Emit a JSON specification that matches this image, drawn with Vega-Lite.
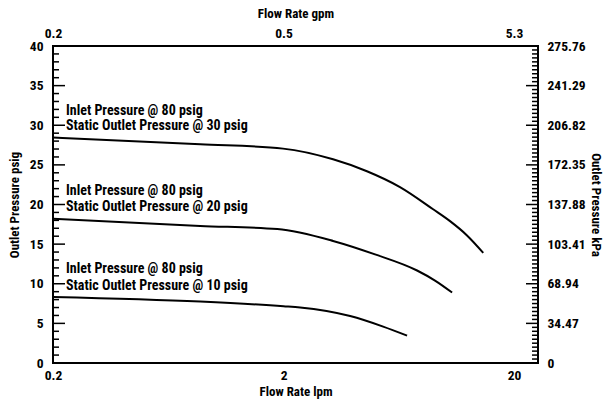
{
  "$schema": "https://vega.github.io/schema/vega-lite/v6.json",
  "width": 485,
  "height": 317,
  "autosize": {"type": "none"},
  "padding": {"left": 53, "top": 46, "right": 65, "bottom": 42},
  "background": "white",
  "config": {
    "view": {"stroke": "black", "strokeWidth": 2},
    "font": "Roboto Condensed, DejaVu Sans Condensed, sans-serif",
    "axis": {
      "labelFont": "Roboto Condensed, DejaVu Sans Condensed, sans-serif",
      "labelFontWeight": "bold",
      "labelFontSize": 13.5,
      "labelColor": "black",
      "titleFont": "Roboto Condensed, DejaVu Sans Condensed, sans-serif",
      "titleFontWeight": "bold",
      "titleFontSize": 13,
      "titleColor": "black",
      "grid": false,
      "domain": false,
      "ticks": false
    }
  },
  "datasets": {
    "curves": [
      {"series": "30", "lpm": 0.2, "psig": 28.45},
      {"series": "30", "lpm": 0.87, "psig": 27.6},
      {"series": "30", "lpm": 1.99, "psig": 27.05},
      {"series": "30", "lpm": 3.28, "psig": 25.7},
      {"series": "30", "lpm": 4.6, "psig": 24.2},
      {"series": "30", "lpm": 6.4, "psig": 22.2},
      {"series": "30", "lpm": 8.91, "psig": 19.4},
      {"series": "30", "lpm": 10.55, "psig": 17.9},
      {"series": "30", "lpm": 12.5, "psig": 16.1},
      {"series": "30", "lpm": 14.7, "psig": 13.9},
      {"series": "20", "lpm": 0.2, "psig": 18.2},
      {"series": "20", "lpm": 0.87, "psig": 17.3},
      {"series": "20", "lpm": 1.88, "psig": 16.9},
      {"series": "20", "lpm": 3.28, "psig": 15.4},
      {"series": "20", "lpm": 4.99, "psig": 13.7},
      {"series": "20", "lpm": 7.59, "psig": 11.67},
      {"series": "20", "lpm": 9.08, "psig": 10.4},
      {"series": "20", "lpm": 10.77, "psig": 8.89},
      {"series": "10", "lpm": 0.2, "psig": 8.34},
      {"series": "10", "lpm": 0.87, "psig": 7.75},
      {"series": "10", "lpm": 2.0, "psig": 7.16},
      {"series": "10", "lpm": 2.36, "psig": 7.0},
      {"series": "10", "lpm": 3.89, "psig": 5.92},
      {"series": "10", "lpm": 5.41, "psig": 4.59},
      {"series": "10", "lpm": 6.87, "psig": 3.45}
    ],
    "labels": [
      {"lpm": 0.2, "psig": 31.8, "text": "Inlet Pressure @ 80 psig"},
      {"lpm": 0.2, "psig": 29.9, "text": "Static Outlet Pressure @ 30 psig"},
      {"lpm": 0.2, "psig": 21.7, "text": "Inlet Pressure @ 80 psig"},
      {"lpm": 0.2, "psig": 19.7, "text": "Static Outlet Pressure @ 20 psig"},
      {"lpm": 0.2, "psig": 11.8, "text": "Inlet Pressure @ 80 psig"},
      {"lpm": 0.2, "psig": 9.77, "text": "Static Outlet Pressure @ 10 psig"}
    ],
    "ticks": [
      {"v": 5, "s": "L", "k": "major"}, {"v": 10, "s": "L", "k": "major"}, {"v": 15, "s": "L", "k": "major"}, {"v": 20, "s": "L", "k": "major"}, {"v": 25, "s": "L", "k": "major"}, {"v": 30, "s": "L", "k": "major"}, {"v": 35, "s": "L", "k": "major"},
      {"v": 1, "s": "L", "k": "minor"}, {"v": 2, "s": "L", "k": "minor"}, {"v": 3, "s": "L", "k": "minor"}, {"v": 4, "s": "L", "k": "minor"},
      {"v": 6, "s": "L", "k": "minor"}, {"v": 7, "s": "L", "k": "minor"}, {"v": 8, "s": "L", "k": "minor"}, {"v": 9, "s": "L", "k": "minor"},
      {"v": 11, "s": "L", "k": "minor"}, {"v": 12, "s": "L", "k": "minor"}, {"v": 13, "s": "L", "k": "minor"}, {"v": 14, "s": "L", "k": "minor"},
      {"v": 16, "s": "L", "k": "minor"}, {"v": 17, "s": "L", "k": "minor"}, {"v": 18, "s": "L", "k": "minor"}, {"v": 19, "s": "L", "k": "minor"},
      {"v": 21, "s": "L", "k": "minor"}, {"v": 22, "s": "L", "k": "minor"}, {"v": 23, "s": "L", "k": "minor"}, {"v": 24, "s": "L", "k": "minor"},
      {"v": 26, "s": "L", "k": "minor"}, {"v": 27, "s": "L", "k": "minor"}, {"v": 28, "s": "L", "k": "minor"}, {"v": 29, "s": "L", "k": "minor"},
      {"v": 31, "s": "L", "k": "minor"}, {"v": 32, "s": "L", "k": "minor"}, {"v": 33, "s": "L", "k": "minor"}, {"v": 34, "s": "L", "k": "minor"},
      {"v": 36, "s": "L", "k": "minor"}, {"v": 37, "s": "L", "k": "minor"}, {"v": 38, "s": "L", "k": "minor"}, {"v": 39, "s": "L", "k": "minor"},
      {"v": 5, "s": "R", "k": "major"}, {"v": 10, "s": "R", "k": "major"}, {"v": 15, "s": "R", "k": "major"}, {"v": 20, "s": "R", "k": "major"}, {"v": 25, "s": "R", "k": "major"}, {"v": 30, "s": "R", "k": "major"}, {"v": 35, "s": "R", "k": "major"},
      {"v": 0.5, "s": "R", "k": "minor"}, {"v": 1, "s": "R", "k": "minor"}, {"v": 1.5, "s": "R", "k": "minor"}, {"v": 2, "s": "R", "k": "minor"}, {"v": 2.5, "s": "R", "k": "minor"}, {"v": 3, "s": "R", "k": "minor"}, {"v": 3.5, "s": "R", "k": "minor"}, {"v": 4, "s": "R", "k": "minor"}, {"v": 4.5, "s": "R", "k": "minor"},
      {"v": 5.5, "s": "R", "k": "minor"}, {"v": 6, "s": "R", "k": "minor"}, {"v": 6.5, "s": "R", "k": "minor"}, {"v": 7, "s": "R", "k": "minor"}, {"v": 7.5, "s": "R", "k": "minor"}, {"v": 8, "s": "R", "k": "minor"}, {"v": 8.5, "s": "R", "k": "minor"}, {"v": 9, "s": "R", "k": "minor"}, {"v": 9.5, "s": "R", "k": "minor"},
      {"v": 10.5, "s": "R", "k": "minor"}, {"v": 11, "s": "R", "k": "minor"}, {"v": 11.5, "s": "R", "k": "minor"}, {"v": 12, "s": "R", "k": "minor"}, {"v": 12.5, "s": "R", "k": "minor"}, {"v": 13, "s": "R", "k": "minor"}, {"v": 13.5, "s": "R", "k": "minor"}, {"v": 14, "s": "R", "k": "minor"}, {"v": 14.5, "s": "R", "k": "minor"},
      {"v": 15.5, "s": "R", "k": "minor"}, {"v": 16, "s": "R", "k": "minor"}, {"v": 16.5, "s": "R", "k": "minor"}, {"v": 17, "s": "R", "k": "minor"}, {"v": 17.5, "s": "R", "k": "minor"}, {"v": 18, "s": "R", "k": "minor"}, {"v": 18.5, "s": "R", "k": "minor"}, {"v": 19, "s": "R", "k": "minor"}, {"v": 19.5, "s": "R", "k": "minor"},
      {"v": 20.5, "s": "R", "k": "minor"}, {"v": 21, "s": "R", "k": "minor"}, {"v": 21.5, "s": "R", "k": "minor"}, {"v": 22, "s": "R", "k": "minor"}, {"v": 22.5, "s": "R", "k": "minor"}, {"v": 23, "s": "R", "k": "minor"}, {"v": 23.5, "s": "R", "k": "minor"}, {"v": 24, "s": "R", "k": "minor"}, {"v": 24.5, "s": "R", "k": "minor"},
      {"v": 25.5, "s": "R", "k": "minor"}, {"v": 26, "s": "R", "k": "minor"}, {"v": 26.5, "s": "R", "k": "minor"}, {"v": 27, "s": "R", "k": "minor"}, {"v": 27.5, "s": "R", "k": "minor"}, {"v": 28, "s": "R", "k": "minor"}, {"v": 28.5, "s": "R", "k": "minor"}, {"v": 29, "s": "R", "k": "minor"}, {"v": 29.5, "s": "R", "k": "minor"},
      {"v": 30.5, "s": "R", "k": "minor"}, {"v": 31, "s": "R", "k": "minor"}, {"v": 31.5, "s": "R", "k": "minor"}, {"v": 32, "s": "R", "k": "minor"}, {"v": 32.5, "s": "R", "k": "minor"}, {"v": 33, "s": "R", "k": "minor"}, {"v": 33.5, "s": "R", "k": "minor"}, {"v": 34, "s": "R", "k": "minor"}, {"v": 34.5, "s": "R", "k": "minor"},
      {"v": 35.5, "s": "R", "k": "minor"}, {"v": 36, "s": "R", "k": "minor"}, {"v": 36.5, "s": "R", "k": "minor"}, {"v": 37, "s": "R", "k": "minor"}, {"v": 37.5, "s": "R", "k": "minor"}, {"v": 38, "s": "R", "k": "minor"}, {"v": 38.5, "s": "R", "k": "minor"}, {"v": 39, "s": "R", "k": "minor"}, {"v": 39.5, "s": "R", "k": "minor"}
    ]
  },
  "layer": [
    {
      "data": {"name": "curves"},
      "mark": {"type": "line", "color": "black", "strokeWidth": 2, "interpolate": "monotone"},
      "encoding": {
        "x": {"field": "lpm", "type": "quantitative",
              "scale": {"type": "log", "domain": [0.2, 25.4], "nice": false},
              "axis": {"orient": "bottom", "values": [0.2, 2, 20], "labelPadding": 5, "title": "Flow Rate lpm", "titlePadding": 4, "labelFlush": false}},
        "y": {"field": "psig", "type": "quantitative",
              "scale": {"domain": [0, 40], "nice": false},
              "axis": {"orient": "left", "values": [0, 5, 10, 15, 20, 25, 30, 35, 40], "labelPadding": 10, "title": "Outlet Pressure psig", "titlePadding": 8, "labelFlush": false}},
        "detail": {"field": "series"}
      }
    },
    {
      "data": {"name": "curves"},
      "mark": {"type": "point", "opacity": 0},
      "encoding": {
        "x": {"field": "lpm", "type": "quantitative",
              "scale": {"type": "log", "domain": [0.2, 25.4], "nice": false},
              "axis": {"orient": "top", "values": [0.2, 2, 20], "labelPadding": 6, "labelExpr": "datum.value == 0.2 ? '0.2' : datum.value == 2 ? '0.5' : '5.3'", "title": "Flow Rate gpm", "titlePadding": 6, "labelFlush": false}},
        "y": {"field": "psig", "type": "quantitative",
              "scale": {"domain": [0, 40], "nice": false},
              "axis": {"orient": "right", "values": [0, 5, 10, 15, 20, 25, 30, 35, 40], "labelPadding": 9, "labelExpr": "datum.value == 0 ? '0' : format(datum.value * 6.894, '.2f')", "title": "Outlet Pressure kPa", "titlePadding": 3, "labelFlush": false}}
      }
    },
    {
      "data": {"name": "ticks"},
      "transform": [{"filter": "datum.s == 'L' && datum.k == 'major'"}],
      "mark": {"type": "tick", "orient": "horizontal", "clip": true, "color": "black", "thickness": 1.5, "size": 24, "opacity": 1},
      "encoding": {
        "x": {"datum": 0.2, "type": "quantitative",
              "scale": {"type": "log", "domain": [0.2, 25.4], "nice": false}, "axis": null},
        "y": {"field": "v", "type": "quantitative",
              "scale": {"domain": [0, 40], "nice": false}, "axis": null}
      }
    },
    {
      "data": {"name": "ticks"},
      "transform": [{"filter": "datum.s == 'L' && datum.k == 'minor'"}],
      "mark": {"type": "tick", "orient": "horizontal", "clip": true, "color": "black", "thickness": 1.5, "size": 12, "opacity": 1},
      "encoding": {
        "x": {"datum": 0.2, "type": "quantitative",
              "scale": {"type": "log", "domain": [0.2, 25.4], "nice": false}, "axis": null},
        "y": {"field": "v", "type": "quantitative",
              "scale": {"domain": [0, 40], "nice": false}, "axis": null}
      }
    },
    {
      "data": {"name": "ticks"},
      "transform": [{"filter": "datum.s == 'R' && datum.k == 'major'"}],
      "mark": {"type": "tick", "orient": "horizontal", "clip": true, "color": "black", "thickness": 1.5, "size": 24, "opacity": 1},
      "encoding": {
        "x": {"datum": 25.4, "type": "quantitative",
              "scale": {"type": "log", "domain": [0.2, 25.4], "nice": false}, "axis": null},
        "y": {"field": "v", "type": "quantitative",
              "scale": {"domain": [0, 40], "nice": false}, "axis": null}
      }
    },
    {
      "data": {"name": "ticks"},
      "transform": [{"filter": "datum.s == 'R' && datum.k == 'minor'"}],
      "mark": {"type": "tick", "orient": "horizontal", "clip": true, "color": "black", "thickness": 1.5, "size": 12, "opacity": 1},
      "encoding": {
        "x": {"datum": 25.4, "type": "quantitative",
              "scale": {"type": "log", "domain": [0.2, 25.4], "nice": false}, "axis": null},
        "y": {"field": "v", "type": "quantitative",
              "scale": {"domain": [0, 40], "nice": false}, "axis": null}
      }
    },
    {
      "data": {"name": "labels"},
      "mark": {"type": "text", "align": "left", "baseline": "middle", "dx": 13, "fontSize": 14, "fontWeight": "bold", "font": "Roboto Condensed, DejaVu Sans Condensed, sans-serif", "color": "black"},
      "encoding": {
        "x": {"field": "lpm", "type": "quantitative",
              "scale": {"type": "log", "domain": [0.2, 25.4], "nice": false}, "axis": null},
        "y": {"field": "psig", "type": "quantitative",
              "scale": {"domain": [0, 40], "nice": false}, "axis": null},
        "text": {"field": "text"}
      }
    }
  ],
  "resolve": {"axis": {"x": "independent", "y": "independent"}}
}
